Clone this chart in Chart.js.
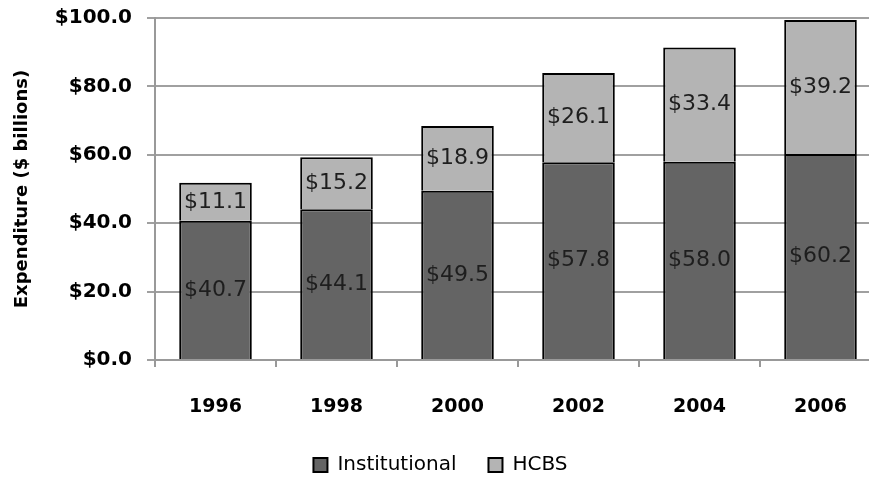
<!DOCTYPE html>
<html>
<head>
<meta charset="utf-8">
<script src="https://cdn.jsdelivr.net/npm/chart.js@4/dist/chart.umd.min.js"></script>
<style>
  html, body { margin: 0; padding: 0; background: #fff; overflow: hidden; }
  #wrap { width: 869px; height: 485px; overflow: hidden; }
  canvas { display: block; }
</style>
</head>
<body>
<div id="wrap"><canvas id="chart" width="881" height="485"></canvas></div>
<script>
// Long-term care expenditure by setting, $ billions
const years = ['1996', '1998', '2000', '2002', '2004', '2006'];
const institutional = [40.7, 44.1, 49.5, 57.8, 58.0, 60.2];
const hcbs = [11.1, 15.2, 18.9, 26.1, 33.4, 39.2];
const yTicks = [0, 20, 40, 60, 80, 100];

const FONT = 'DejaVu Sans';
const money = v => '$' + Number(v).toFixed(1);

// Writes each segment's value in the middle of its bar
const segmentLabels = {
  id: 'segmentLabels',
  afterDatasetsDraw(chart) {
    const ctx = chart.ctx;
    ctx.save();
    ctx.font = '22px "' + FONT + '"';
    ctx.fillStyle = '#1e1e1e';
    ctx.textAlign = 'center';
    ctx.textBaseline = 'middle';
    chart.data.datasets.forEach((ds, di) => {
      const meta = chart.getDatasetMeta(di);
      meta.data.forEach((bar, i) => {
        const y = (bar.y + bar.base) / 2;
        ctx.fillText(money(ds.data[i]), bar.x, y);
      });
    });
    ctx.restore();
  }
};

new Chart(document.getElementById('chart'), {
  type: 'bar',
  data: {
    labels: years,
    datasets: [
      {
        label: 'Institutional',
        data: institutional,
        backgroundColor: '#646464',
        borderColor: '#000',
        borderWidth: 2,
        borderSkipped: 'start'
      },
      {
        label: 'HCBS',
        data: hcbs,
        backgroundColor: '#b4b4b4',
        borderColor: '#000',
        borderWidth: 2,
        borderSkipped: 'start'
      }
    ]
  },
  options: {
    responsive: false,
    animation: false,
    devicePixelRatio: 1,
    layout: { padding: { top: 18, left: 0, right: 0, bottom: 0 } },
    datasets: { bar: { barPercentage: 0.6, categoryPercentage: 1.0 } },
    plugins: {
      legend: {
        position: 'bottom',
        labels: {
          font: { family: FONT, size: 20 },
          color: '#000',
          boxWidth: 14,
          boxHeight: 14,
          padding: 32
        }
      },
      tooltip: { enabled: false }
    },
    scales: {
      x: {
        stacked: true,
        afterFit(scale) { scale.height = 63; },
        grid: {
          display: true,
          drawOnChartArea: false,
          drawTicks: true,
          tickLength: 7,
          color: '#999',
          lineWidth: 2
        },
        border: { display: true, color: '#999', width: 2 },
        ticks: {
          font: { family: FONT, size: 19, weight: 'bold' },
          color: '#000',
          padding: 29,
          maxRotation: 0
        }
      },
      y: {
        stacked: true,
        min: 0,
        max: 100,
        afterFit(scale) {
          scale.width = 155;
          scale.paddingTop = 0;
          scale.paddingBottom = 0;
        },
        afterBuildTicks(scale) { scale.ticks = yTicks.map(v => ({ value: v })); },
        grid: {
          color: '#a0a0a0',
          lineWidth: 2,
          tickLength: 8,
          tickColor: '#a0a0a0'
        },
        border: { display: true, color: '#999', width: 2 },
        ticks: {
          font: { family: FONT, size: 20, weight: 'bold' },
          color: '#000',
          padding: 15,
          callback: v => money(v)
        },
        title: {
          display: true,
          text: 'Expenditure ($ billions)',
          font: { family: FONT, size: 18, weight: 'bold' },
          color: '#000',
          padding: { top: 12, bottom: 0 }
        }
      }
    }
  },
  plugins: [segmentLabels]
});
</script>
</body>
</html>
